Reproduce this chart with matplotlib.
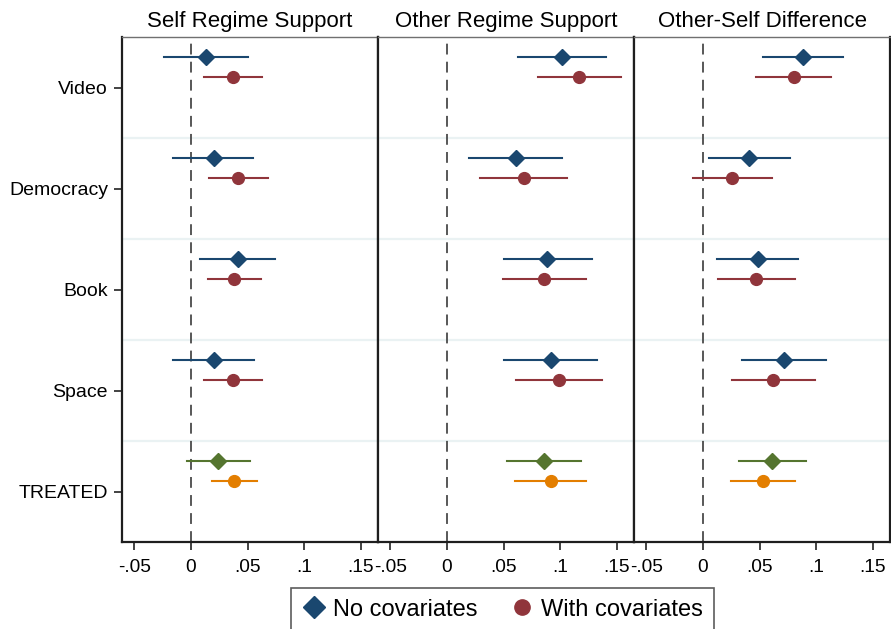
import matplotlib
matplotlib.use("Agg")
import matplotlib.pyplot as plt
from matplotlib.lines import Line2D

plt.rcParams["font.family"] = ["Liberation Sans", "DejaVu Sans"]

categories = ["Video", "Democracy", "Book", "Space", "TREATED"]
panel_titles = ["Self Regime Support", "Other Regime Support", "Other-Self Difference"]

# point estimates and 95% CIs: [panel][category]
no_cov_est = [
    [0.0132, 0.0200, 0.0417, 0.0200, 0.0241],
    [0.1017, 0.0606, 0.0885, 0.0914, 0.0855],
    [0.0885, 0.0409, 0.0485, 0.0714, 0.0611],
]
no_cov_lo = [
    [-0.0238, -0.0156, 0.0079, -0.0162, -0.0032],
    [0.0626, 0.0194, 0.0506, 0.0500, 0.0526],
    [0.0532, 0.0050, 0.0126, 0.0341, 0.0315],
]
no_cov_hi = [
    [0.0500, 0.0550, 0.0741, 0.0556, 0.0523],
    [0.1405, 0.1017, 0.1276, 0.1323, 0.1182],
    [0.1238, 0.0767, 0.0838, 0.1088, 0.0908],
]
with_cov_est = [
    [0.0370, 0.0417, 0.0382, 0.0367, 0.0382],
    [0.1167, 0.0676, 0.0858, 0.0988, 0.0914],
    [0.0800, 0.0259, 0.0470, 0.0620, 0.0529],
]
with_cov_lo = [
    [0.0118, 0.0156, 0.0150, 0.0112, 0.0188],
    [0.0802, 0.0291, 0.0491, 0.0608, 0.0600],
    [0.0470, -0.0088, 0.0129, 0.0259, 0.0244],
]
with_cov_hi = [
    [0.0623, 0.0679, 0.0620, 0.0623, 0.0579],
    [0.1537, 0.1061, 0.1223, 0.1367, 0.1226],
    [0.1132, 0.0608, 0.0811, 0.0985, 0.0811],
]

xticks = [-0.05, 0, 0.05, 0.1, 0.15]
xtick_labels = ["-.05", "0", ".05", ".1", ".15"]

navy = "#1a476f"
maroon = "#90353b"
green = "#55752f"
orange = "#e37e00"
grid_col = "#eaf2f3"

W, H = 891, 629
fig = plt.figure(figsize=(W / 100, H / 100), dpi=100)

left, right, top, bottom = 122, 890, 37, 542
pw = (right - left) / 3

n = len(categories)
for p in range(3):
    ax = fig.add_axes([(left + p * pw) / W, 1 - bottom / H, pw / W, (bottom - top) / H])
    ax.set_xlim(-0.0608, 0.165)
    ax.set_ylim(n - 0.5, -0.5)
    for b in range(1, n):
        ax.axhline(b - 0.5, color=grid_col, lw=1.6, zorder=0)
    ax.axvline(0, color="#4a4a4a", lw=1.3, ls=(0, (6, 4)), zorder=1)
    for i in range(n):
        c1 = green if categories[i] == "TREATED" else navy
        c2 = orange if categories[i] == "TREATED" else maroon
        y1, y2 = i - 0.3, i - 0.1
        ax.plot([no_cov_lo[p][i], no_cov_hi[p][i]], [y1, y1], color=c1, lw=1.5, zorder=2)
        ax.plot(no_cov_est[p][i], y1, marker="D", ms=8.5, color=c1, mec=c1, zorder=3)
        ax.plot([with_cov_lo[p][i], with_cov_hi[p][i]], [y2, y2], color=c2, lw=1.5, zorder=2)
        ax.plot(with_cov_est[p][i], y2, marker="o", ms=8.5, color=c2, mec=c2, zorder=3)
    ax.set_xticks(xticks)
    ax.set_xticklabels(xtick_labels, fontsize=13.8)
    ax.tick_params(axis="x", length=6, width=1.2, color="#222222", pad=6)
    ax.set_yticks(range(n))
    if p == 0:
        ax.set_yticklabels(categories, fontsize=14)
        ax.tick_params(axis="y", length=6, width=1.2, color="#222222", pad=4)
    else:
        ax.tick_params(axis="y", length=0, labelleft=False)
    for s in ["left", "right", "bottom"]:
        ax.spines[s].set_color("#1e1e1e")
        ax.spines[s].set_linewidth(1.6)
    ax.spines["top"].set_color("#707070")
    ax.spines["top"].set_linewidth(1.0)
    ax.set_title(panel_titles[p], fontsize=16, pad=7)

handles = [
    Line2D([], [], ls="none", marker="D", ms=11, color=navy, label="No covariates"),
    Line2D([], [], ls="none", marker="o", ms=11, color=maroon, label="With covariates"),
]
leg = fig.legend(handles=handles, loc="upper center", bbox_to_anchor=(502.5 / W, 1 - 588 / H),
                 borderaxespad=0, ncol=2, fontsize=17, frameon=True, fancybox=False,
                 edgecolor="#333333", handletextpad=0.3, columnspacing=1.4, borderpad=0.45,
                 handlelength=1.0)
leg.get_frame().set_linewidth(1.2)

fig.savefig("out.png", dpi=100)
